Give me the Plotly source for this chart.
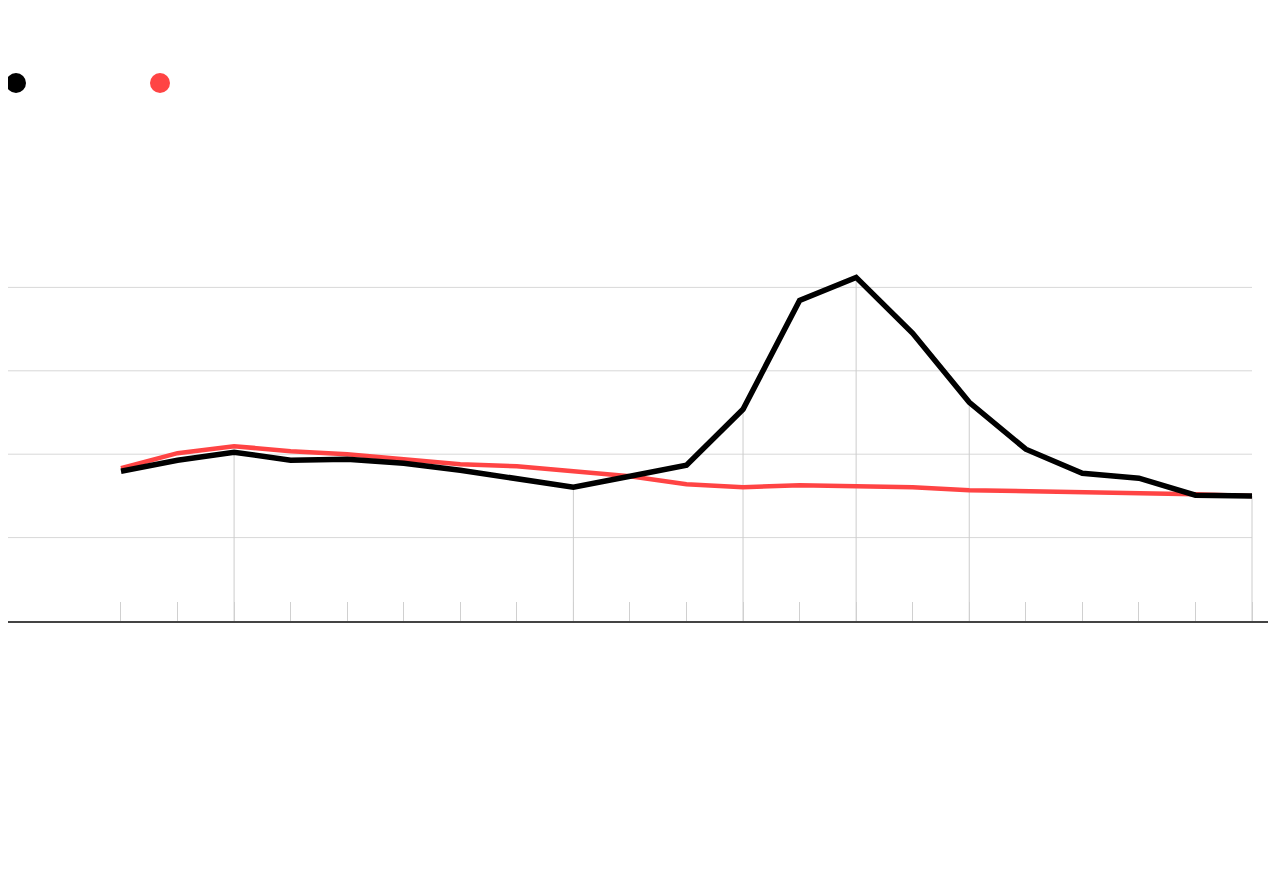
import plotly.graph_objects as go

# ---- data ----
periods = list(range(21))
series_black = [8.98, 9.64, 10.12, 9.64, 9.70, 9.46, 9.04, 8.56, 8.02, 8.68, 9.34,
                12.69, 19.22, 20.60, 17.25, 13.11, 10.30, 8.86, 8.56, 7.54, 7.49]
series_red = [9.16, 10.06, 10.48, 10.18, 10.00, 9.70, 9.40, 9.28, 8.98, 8.68, 8.20,
              8.02, 8.14, 8.08, 8.02, 7.84, 7.78, 7.78, 7.72, 7.60, 7.49]
grid_values = [5, 10, 15, 20]
major_periods = [2, 8, 11, 13, 15, 20]

# page has an 8px body margin; figure coords = page coords - 8
W, H = 1280, 870
ML, MR, MT, MB = 0, 20, 196, 257
x_min, x_max = -1.998, 20.283

fig = go.Figure()
fig.add_trace(go.Scatter(x=periods, y=series_red, mode="lines",
                         line=dict(color="#ff4444", width=4.5), showlegend=False,
                         hoverinfo="skip"))
fig.add_trace(go.Scatter(x=periods, y=series_black, mode="lines",
                         line=dict(color="#000000", width=5.5), showlegend=False,
                         hoverinfo="skip"))

shapes = []
for g in grid_values:
    shapes.append(dict(type="line", xref="x", yref="y", x0=x_min, x1=periods[-1],
                       y0=g, y1=g, line=dict(color="#d8d8d8", width=1), layer="below"))
for p in major_periods:
    shapes.append(dict(type="line", xref="x", yref="y", x0=p, x1=p,
                       y0=0, y1=series_black[p], line=dict(color="#cccccc", width=1),
                       layer="below"))

# legend dots (no labels in the reference)
pw, ph = W - ML - MR, H - MT - MB
def px_to_paper(fx, fy):
    return (fx - ML) / pw, (H - MB - fy) / ph
for cx, color in [(8, "#000000"), (152, "#ff4444")]:
    x0, y0 = px_to_paper(cx - 10, 75 + 10)
    x1, y1 = px_to_paper(cx + 10, 75 - 10)
    shapes.append(dict(type="circle", xref="paper", yref="paper", x0=x0, x1=x1,
                       y0=y0, y1=y1, fillcolor=color, line=dict(width=0)))

fig.update_layout(
    width=W, height=H,
    margin=dict(l=ML, r=MR, t=MT, b=MB),
    paper_bgcolor="white", plot_bgcolor="white",
    shapes=shapes,
    showlegend=False,
    xaxis=dict(range=[x_min, x_max], tickvals=periods, showticklabels=False,
               ticks="inside", ticklen=19, tickcolor="#d0d0d0", tickwidth=1,
               showgrid=False, zeroline=False, showline=True,
               linecolor="#444444", linewidth=2),
    yaxis=dict(range=[0, 25], showticklabels=False, showgrid=False,
               zeroline=False, showline=False, ticks=""),
)

fig.write_html("out.html")
